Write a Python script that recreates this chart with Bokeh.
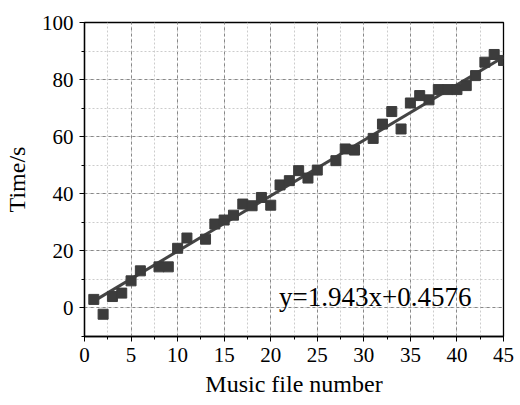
from bokeh.plotting import figure
from bokeh.models import Range1d, SingleIntervalTicker, Label
from bokeh.embed import file_html
from bokeh.resources import INLINE

# Data
file_number = [1, 2, 3, 4, 5, 6, 8, 9, 10, 11, 13, 14, 15, 16, 17, 18, 19, 20,
               21, 22, 23, 24, 25, 27, 28, 29, 31, 32, 33, 34, 35, 36, 37, 38,
               39, 40, 41, 42, 43, 44, 45]
time_s = [3.0, -2.2, 4.0, 5.2, 9.5, 13.0, 14.4, 14.4, 20.9, 24.5, 24.1, 29.4,
          30.8, 32.5, 36.4, 35.8, 38.7, 36.0, 43.1, 44.6, 48.1, 45.5, 48.3,
          51.6, 55.7, 55.3, 59.4, 64.4, 68.8, 62.7, 71.8, 74.4, 72.9, 76.5,
          76.5, 76.5, 77.9, 81.4, 86.1, 88.8, 86.7]
slope = 1.943
intercept = 0.4576
equation = "y=1.943x+0.4576"
x_label = "Music file number"
y_label = "Time/s"

FONT = "Liberation Serif"

p = figure(width=520, height=405, output_backend="svg", toolbar_location=None,
           x_range=Range1d(0, 45), y_range=Range1d(-10, 100),
           min_border_left=83, min_border_right=17, min_border_top=22,
           min_border_bottom=69)
p.background_fill_color = "white"
p.border_fill_color = "white"
p.outline_line_color = "black"
p.outline_line_width = 1.3

# Axes
p.xaxis.ticker = SingleIntervalTicker(interval=5, num_minor_ticks=2)
p.yaxis.ticker = SingleIntervalTicker(interval=20, num_minor_ticks=2)
for ax in (p.xaxis, p.yaxis):
    ax.axis_line_color = "black"
    ax.axis_line_width = 1.3
    ax.major_tick_line_color = "black"
    ax.minor_tick_line_color = "black"
    ax.major_tick_out = 5
    ax.major_tick_in = 0
    ax.minor_tick_out = 3
    ax.minor_tick_in = 0
    ax.major_label_text_font = FONT
    ax.major_label_text_font_size = "21px"
    ax.major_label_text_color = "black"
    ax.axis_label_text_font = FONT
    ax.axis_label_text_font_size = "24px"
    ax.axis_label_text_font_style = "normal"
    ax.axis_label_text_color = "black"
p.xaxis.axis_label = x_label
p.yaxis.axis_label = y_label
p.xaxis.major_label_standoff = 6
p.yaxis.major_label_standoff = 6
p.xaxis.axis_label_standoff = 6
p.yaxis.axis_label_standoff = 9

# Grid
for g in (p.xgrid, p.ygrid):
    g.grid_line_color = "#888888"
    g.grid_line_dash = "3 3"
    g.grid_line_width = 1
    g.minor_grid_line_color = "#cccccc"
    g.minor_grid_line_dash = "2 2"
    g.minor_grid_line_width = 1

# Fit line
fit_x = [min(file_number), max(file_number)]
fit_y = [slope * v + intercept for v in fit_x]
p.line(fit_x, fit_y, line_color="#444444", line_width=3)

# Points
p.scatter(file_number, time_s, marker="square", size=10,
          fill_color="#3c3c3c", line_color="#3c3c3c")

p.add_layout(Label(x=20.9, y=3.7, text=equation, text_font=FONT,
                   text_font_size="27px", text_color="black",
                   text_baseline="alphabetic"))

open("out.html", "w").write(file_html(p, INLINE))
